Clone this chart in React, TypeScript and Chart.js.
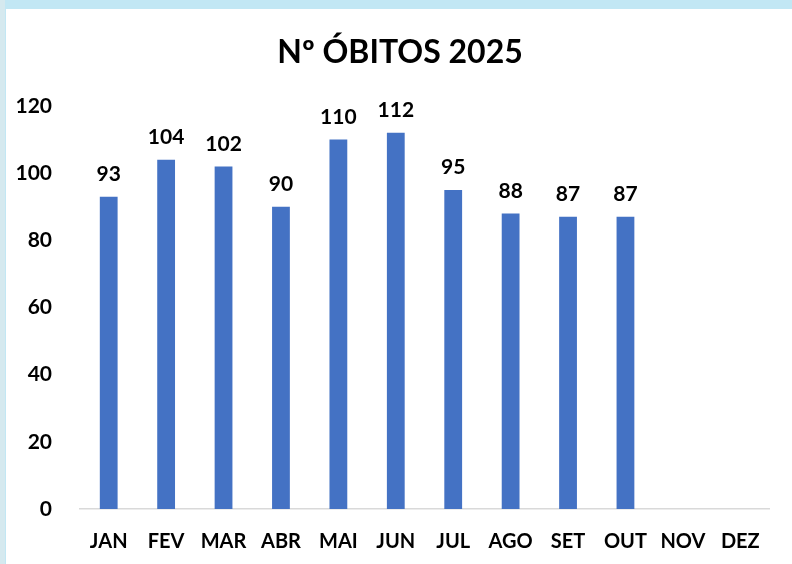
import React, { useEffect, useRef } from "react";
import { Chart, registerables } from "chart.js";

Chart.register(...registerables);

const categories = ["JAN", "FEV", "MAR", "ABR", "MAI", "JUN", "JUL", "AGO", "SET", "OUT", "NOV", "DEZ"];
const obitos: (number | null)[] = [93, 104, 102, 90, 110, 112, 95, 88, 87, 87, null, null];
const yTicks = [0, 20, 40, 60, 80, 100, 120];
const titleText = "Nº ÓBITOS 2025";

const FONT = "Lato, 'Open Sans', sans-serif";

const valueLabels = {
  id: "valueLabels",
  afterDatasetsDraw(chart: any) {
    const ctx = chart.ctx;
    const meta = chart.getDatasetMeta(0);
    ctx.save();
    ctx.font = `bold 21px ${FONT}`;
    ctx.fillStyle = "#000";
    ctx.textAlign = "center";
    ctx.textBaseline = "bottom";
    meta.data.forEach((el: any, i: number) => {
      const v = chart.data.datasets[0].data[i];
      if (v === null || v === undefined) return;
      ctx.fillText(String(v), el.x, el.y - 12);
    });
    ctx.restore();
  },
};

const customTitle = {
  id: "customTitle",
  afterDraw(chart: any) {
    const ctx = chart.ctx;
    ctx.save();
    ctx.font = `bold 32px ${FONT}`;
    ctx.fillStyle = "#000";
    ctx.textAlign = "center";
    ctx.textBaseline = "middle";
    ctx.fillText(titleText, 394, 44);
    ctx.restore();
  },
};

export default function App() {
  const ref = useRef<HTMLCanvasElement | null>(null);
  useEffect(() => {
    if (!ref.current) return;
    const chart = new Chart(ref.current, {
      type: "bar",
      data: {
        labels: categories,
        datasets: [
          {
            data: obitos,
            backgroundColor: "#4472C4",
            barPercentage: 0.62,
            categoryPercentage: 0.5,
          },
        ],
      },
      options: {
        animation: false,
        responsive: false,
        maintainAspectRatio: false,
        layout: { padding: { left: 0, right: 23, top: 97, bottom: 0 } },
        plugins: {
          legend: { display: false },
          tooltip: { enabled: false },
          title: { display: false },
        },
        scales: {
          x: {
            grid: { display: false },
            border: { display: true, color: "#d9d9d9", width: 1.5 },
            ticks: {
              color: "#000",
              font: { family: FONT, size: 20, weight: "bold" },
              padding: 13,
              maxRotation: 0,
              autoSkip: false,
            },
            afterFit(scale: any) {
              scale.height = 55;
            },
          },
          y: {
            min: 0,
            max: 120,
            grid: { display: false },
            border: { display: false },
            afterBuildTicks(scale: any) {
              scale.ticks = yTicks.map((v) => ({ value: v }));
            },
            ticks: {
              color: "#000",
              font: { family: FONT, size: 21, weight: "bold" },
              padding: 20,
            },
            afterFit(scale: any) {
              scale.width = 74;
            },
          },
        },
      },
      plugins: [valueLabels, customTitle],
    });
    return () => chart.destroy();
  }, []);

  return (
    <div style={{ position: "fixed", left: 0, top: 0, width: 792, height: 564, background: "#c2e7f4", overflow: "hidden" }}>
      <div style={{ position: "absolute", left: 0, top: 0, width: 5, height: 564, background: "#d5e9ef" }} />
      <div style={{ position: "absolute", left: 6, top: 9, width: 786, height: 555, background: "#ffffff" }}>
        <canvas ref={ref} width={786} height={555} style={{ display: "block" }} />
      </div>
    </div>
  );
}
